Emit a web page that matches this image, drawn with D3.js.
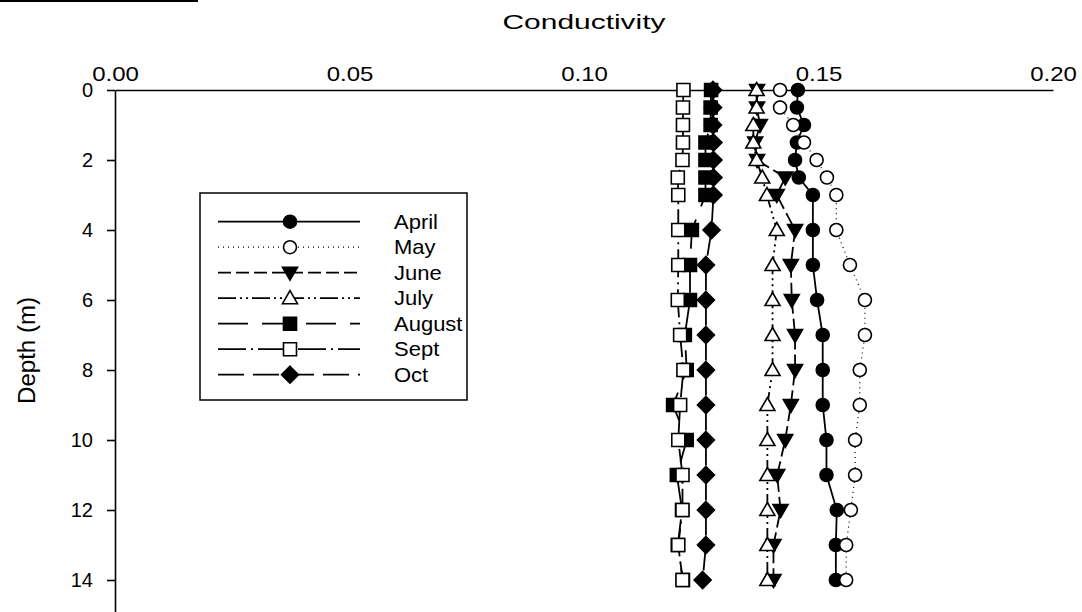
<!DOCTYPE html>
<html>
<head>
<meta charset="utf-8">
<script src="https://cdn.jsdelivr.net/npm/d3@7"></script>
<style>
    body { margin: 0; background: #ffffff; }
    text { font-family: Arial, "Liberation Sans", sans-serif; fill: #000000; }
</style>
</head>
<body>
<script>
const svgWidth = 1082
const svgHeight = 612

// depth of each sample (m)
const depths = [0, 0.5, 1, 1.5, 2, 2.5, 3, 4, 5, 6, 7, 8, 9, 10, 11, 12, 13, 14]

// conductivity per month
const april  = [0.1456, 0.1454, 0.1469, 0.1454, 0.1450, 0.1458, 0.1488, 0.1488, 0.1488, 0.1497, 0.1509, 0.1509, 0.1509, 0.1517, 0.1517, 0.1539, 0.1537, 0.1537]
const may    = [0.1418, 0.1418, 0.1446, 0.1469, 0.1496, 0.1518, 0.1538, 0.1538, 0.1567, 0.1599, 0.1599, 0.1588, 0.1588, 0.1578, 0.1578, 0.1569, 0.1559, 0.1559]
const june   = [0.1369, 0.1369, 0.1375, 0.1365, 0.1369, 0.1429, 0.1411, 0.1450, 0.1441, 0.1443, 0.1450, 0.1450, 0.1441, 0.1429, 0.1412, 0.1419, 0.1404, 0.1404]
const july   = [0.1368, 0.1368, 0.1361, 0.1361, 0.1368, 0.1380, 0.1390, 0.1411, 0.1402, 0.1402, 0.1402, 0.1402, 0.1391, 0.1391, 0.1391, 0.1391, 0.1391, 0.1391]
const august = [0.1271, 0.1270, 0.1270, 0.1259, 0.1259, 0.1259, 0.1259, 0.1230, 0.1226, 0.1226, 0.1215, 0.1219, 0.1190, 0.1219, 0.1198, 0.1209, 0.1200, 0.1211]
const sept   = [0.1212, 0.1211, 0.1211, 0.1211, 0.1210, 0.1200, 0.1201, 0.1201, 0.1201, 0.1200, 0.1205, 0.1212, 0.1205, 0.1201, 0.1210, 0.1210, 0.1201, 0.1210]
const oct    = [0.1275, 0.1275, 0.1275, 0.1276, 0.1276, 0.1276, 0.1276, 0.1272, 0.1260, 0.1260, 0.1260, 0.1260, 0.1260, 0.1260, 0.1260, 0.1260, 0.1260, 0.1253]

const monthNames = ["April", "May", "June", "July", "August", "Sept", "Oct"]
const xTicks = [0, 0.05, 0.10, 0.15, 0.20]
const yTicks = [0, 2, 4, 6, 8, 10, 12, 14]

const seriesValues = [april, may, june, july, august, sept, oct]

// marker shape, fill, dash for each month
const styles = [
    { shape: "circle",   fill: "#000", dash: null,            width: 1.8 },
    { shape: "circle",   fill: "#fff", dash: "1,4",           width: 1.2 },
    { shape: "triDown",  fill: "#000", dash: "13,5",          width: 1.8 },
    { shape: "triUp",    fill: "#fff", dash: "18,4,2,4,2,4",  width: 1.8 },
    { shape: "square",   fill: "#000", dash: "30,14",         width: 1.8 },
    { shape: "square",   fill: "#fff", dash: "28,5,2,5",      width: 1.8 },
    { shape: "diamond",  fill: "#000", dash: "26,9",          width: 1.8 }
]

const margin = { top: 90, left: 115, right: 29 }

const x = d3.scaleLinear()
    .domain([0, 0.2])
    .range([margin.left, svgWidth - margin.right])

const y = d3.scaleLinear()
    .domain([0, 15])
    .range([margin.top, margin.top + 15 * 35])

function markerPath(shape) {
    if (shape === "circle") return "M6.5,0A6.5,6.5,0,1,1,-6.5,0A6.5,6.5,0,1,1,6.5,0Z"
    if (shape === "square") return "M-6.5,-6.5H6.5V6.5H-6.5Z"
    if (shape === "triUp") return "M0,-7.5L7.5,5.5L-7.5,5.5Z"
    if (shape === "triDown") return "M0,7.5L7.5,-5.5L-7.5,-5.5Z"
    return "M0,-8.5L8.5,0L0,8.5L-8.5,0Z"
}

const svg = d3.select("body").append("svg")
    .attr("width", svgWidth)
    .attr("height", svgHeight)

// cut-off heading rule at the very top
svg.append("rect")
    .attr("x", 0)
    .attr("y", 0)
    .attr("width", 198)
    .attr("height", 2)
    .attr("fill", "#000")

svg.append("text")
    .attr("x", x(0.1))
    .attr("y", 29)
    .attr("text-anchor", "middle")
    .attr("font-size", 21)
    .attr("textLength", 163)
    .attr("lengthAdjust", "spacingAndGlyphs")
    .text("Conductivity")

svg.append("text")
    .attr("transform", `translate(35, ${y(7.5) - 2}) rotate(-90)`)
    .attr("text-anchor", "middle")
    .attr("font-size", 23)
    .attr("textLength", 107)
    .attr("lengthAdjust", "spacingAndGlyphs")
    .text("Depth (m)")

const xAxis = d3.axisTop(x)
    .tickValues(xTicks)
    .tickSize(0)
    .tickPadding(9.5)
    .tickFormat(d3.format(".2f"))

const yAxis = d3.axisLeft(y)
    .tickValues(yTicks)
    .tickSize(8)
    .tickSizeOuter(0)
    .tickPadding(14)

const xG = svg.append("g")
    .attr("transform", `translate(0, ${margin.top})`)
    .call(xAxis)

const yG = svg.append("g")
    .attr("transform", `translate(${margin.left}, 0)`)
    .call(yAxis)

for (const g of [xG, yG]) {
    g.attr("font-family", null).attr("font-size", null)
    g.selectAll("path, line").attr("stroke", "#000").attr("stroke-width", 1.6)
    g.selectAll("text").attr("font-size", 20)
}
xG.selectAll("text").attr("transform", "scale(1.2,1)")

// lines first, markers on top
const line = d3.line()
    .x(d => x(d.v))
    .y(d => y(d.depth))

const series = seriesValues.map(vals => vals.map((v, i) => ({ v: v, depth: depths[i] })))

svg.append("g")
    .selectAll("path")
    .data(series)
    .enter()
    .append("path")
    .attr("d", d => line(d))
    .attr("fill", "none")
    .attr("stroke", "#000")
    .attr("stroke-width", (d, i) => styles[i].width)
    .attr("stroke-dasharray", (d, i) => styles[i].dash)

series.forEach((pts, i) => {
    svg.append("g")
        .selectAll("path")
        .data(pts)
        .enter()
        .append("path")
        .attr("transform", d => `translate(${x(d.v)}, ${y(d.depth)})`)
        .attr("d", markerPath(styles[i].shape))
        .attr("fill", styles[i].fill)
        .attr("stroke", "#000")
        .attr("stroke-width", 1.6)
})

// legend
const legend = svg.append("g")

legend.append("rect")
    .attr("x", 200)
    .attr("y", 193)
    .attr("width", 267)
    .attr("height", 207)
    .attr("fill", "#fff")
    .attr("stroke", "#000")
    .attr("stroke-width", 1.5)

const rows = legend.selectAll("g.row")
    .data(monthNames)
    .enter()
    .append("g")
    .attr("class", "row")
    .attr("transform", (d, i) => `translate(0, ${221.7 + i * 25.5})`)

rows.append("line")
    .attr("x1", 218)
    .attr("x2", 360)
    .attr("stroke", "#000")
    .attr("stroke-width", (d, i) => styles[i].width)
    .attr("stroke-dasharray", (d, i) => styles[i].dash)

rows.append("path")
    .attr("transform", "translate(290, 0)")
    .attr("d", (d, i) => markerPath(styles[i].shape))
    .attr("fill", (d, i) => styles[i].fill)
    .attr("stroke", "#000")
    .attr("stroke-width", 1.6)

rows.append("text")
    .attr("transform", "translate(394, 7) scale(1.1,1)")
    .attr("font-size", 20)
    .text(d => d)
</script>
</body>
</html>
